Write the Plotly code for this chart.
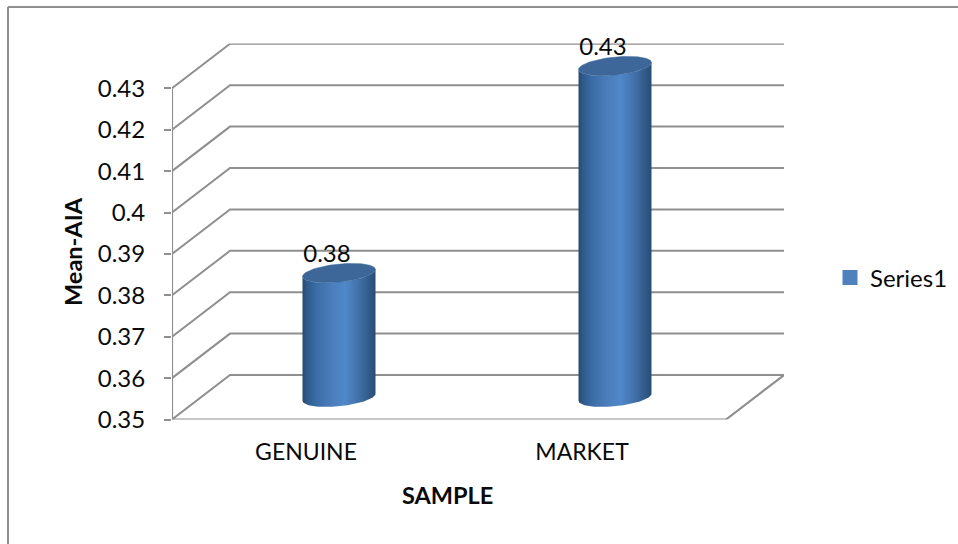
import numpy as np
import plotly.graph_objects as go

# Chart data
categories = ["GENUINE", "MARKET"]
series_name = "Series1"
values = [0.38, 0.43]
y_ticks = [0.35, 0.36, 0.37, 0.38, 0.39, 0.40, 0.41, 0.42, 0.43]
y_tick_labels = ["0.35", "0.36", "0.37", "0.38", "0.39", "0.4", "0.41", "0.42", "0.43"]
x_title = "SAMPLE"
y_title = "Mean-AIA"

# Page and plot-box geometry, in pixels
W, H = 958, 544
LEFT, RIGHT, TOP, BOTTOM = 172, 784, 43.5, 419.5
PX_PER_CAT = 276
PX_PER_UNIT = 4140

# Oblique projection of the depth direction, in axis units
DEPTH_X = 58 / PX_PER_CAT
DEPTH_Y = 44.5 / PX_PER_UNIT
X_MIN = -0.5
X_MAX = X_MIN + (RIGHT - LEFT) / PX_PER_CAT
Y_MIN = y_ticks[0]
Y_MAX = Y_MIN + (BOTTOM - TOP) / PX_PER_UNIT

GRID = "#8f8f8f"
FONT = "Lato"
TEXT = "#0a0a0a"
FONT_SIZE = 23
DIGIT_SIZE = 24
TITLE_SIZE = 23.5

# Cylinder cross-section, in pixels
RX, RY, TILT = 36.5, 9.0, 3.5

fig = go.Figure()


def line(xs, ys, width=2.0, color=GRID):
    fig.add_trace(go.Scatter(x=xs, y=ys, mode="lines", showlegend=False, hoverinfo="skip",
                             line=dict(color=color, width=width)))


# Back wall gridlines with their oblique returns to the value axis
for tick in y_ticks:
    line([X_MIN, X_MIN + DEPTH_X, X_MAX], [tick, tick + DEPTH_Y, tick + DEPTH_Y])

# Value axis and the floor outline
line([X_MIN, X_MIN], [y_ticks[0], y_ticks[-1]], width=2.2)
line([X_MIN, X_MAX - DEPTH_X, X_MAX], [Y_MIN, Y_MIN, Y_MIN + DEPTH_Y], width=2.2)


def ring(cat, level, t):
    """Tilted ellipse around a bar's axis at the given value level."""
    cx = cat + DEPTH_X / 2
    cy = level + DEPTH_Y / 2
    x = cx + RX * np.cos(t) / PX_PER_CAT
    y = cy + (RY * np.sin(t) + TILT * np.cos(t)) / PX_PER_UNIT
    return x, y


BODY_SCALE = [
    [0.00, "#27496f"], [0.06, "#2f5a8a"], [0.20, "#3b6ea8"], [0.42, "#4c7fbd"],
    [0.58, "#5088c9"], [0.75, "#4373ad"], [0.90, "#335c8c"], [1.00, "#294c74"],
]

for i, value in enumerate(values):
    # Side wall: lower half of the top rim back along the lower half of the base rim
    t_low = np.linspace(np.pi, 2 * np.pi, 60)
    x_base, y_base = ring(i, Y_MIN, t_low)
    x_top, y_top = ring(i, value, t_low[::-1])
    fig.add_trace(go.Scatter(
        x=np.concatenate([x_base, x_top, x_base[:1]]),
        y=np.concatenate([y_base, y_top, y_base[:1]]),
        mode="lines", fill="toself", line=dict(width=0, color="rgba(0,0,0,0)"),
        fillgradient=dict(type="horizontal", colorscale=BODY_SCALE),
        showlegend=False, hoverinfo="skip",
    ))
    # Top cap
    t_all = np.linspace(0, 2 * np.pi, 120)
    x_cap, y_cap = ring(i, value, t_all)
    fig.add_trace(go.Scatter(
        x=x_cap, y=y_cap, mode="lines", fill="toself", fillcolor="#3d6799",
        line=dict(width=0.5, color="#3d6799"), showlegend=False, hoverinfo="skip",
    ))

# Value labels just above each cylinder, left of its axis
fig.add_trace(go.Scatter(
    x=[i + DEPTH_X / 2 - 12 / PX_PER_CAT for i in range(len(values))],
    y=[v + DEPTH_Y / 2 + 17 / PX_PER_UNIT for v in values],
    mode="text", text=[f"{v:.2f}" for v in values], textposition="middle center",
    textfont=dict(family=FONT, size=DIGIT_SIZE, color=TEXT),
    cliponaxis=False, showlegend=False, hoverinfo="skip",
))

# Legend entry
fig.add_trace(go.Scatter(
    x=[None], y=[None], mode="markers", name=series_name,
    marker=dict(symbol="square", size=15, color="#4f81bd"),
))


def px_x(p):
    return p / W


def px_y(p):
    return 1 - p / H


fig.update_layout(
    width=W, height=H, autosize=False,
    margin=dict(l=0, r=0, t=0, b=0, autoexpand=False),
    paper_bgcolor="white", plot_bgcolor="white",
    font=dict(family=FONT, size=FONT_SIZE, color=TEXT),
    xaxis=dict(
        domain=[px_x(LEFT), px_x(RIGHT)], range=[X_MIN, X_MAX],
        tickmode="array", tickvals=list(range(len(categories))), ticktext=categories,
        ticks="", showgrid=False, zeroline=False, showline=False, automargin=False,
        ticklabelstandoff=16, ticklabelshift=-4,
        tickfont=dict(family=FONT, size=FONT_SIZE, color=TEXT),
    ),
    yaxis=dict(
        domain=[px_y(BOTTOM), px_y(TOP)], range=[Y_MIN, Y_MAX],
        tickmode="array", tickvals=y_ticks, ticktext=y_tick_labels,
        ticks="outside", ticklen=7, tickwidth=1.6, tickcolor=GRID,
        showgrid=False, zeroline=False, showline=False, automargin=False,
        ticklabelstandoff=14,
        tickfont=dict(family=FONT, size=DIGIT_SIZE, color=TEXT),
    ),
    legend=dict(
        x=px_x(830), y=px_y(278), xanchor="left", yanchor="middle",
        bgcolor="rgba(0,0,0,0)", borderwidth=0, itemwidth=30,
        font=dict(family=FONT, size=24, color=TEXT),
    ),
    annotations=[
        dict(text=f"<b>{x_title}</b>", xref="paper", yref="paper", x=px_x(447), y=px_y(495),
             xanchor="center", yanchor="middle", showarrow=False,
             font=dict(family=FONT, size=TITLE_SIZE, color=TEXT)),
        dict(text=f"<b>{y_title}</b>", xref="paper", yref="paper", x=px_x(73), y=px_y(252),
             xanchor="center", yanchor="middle", textangle=-90, showarrow=False,
             font=dict(family=FONT, size=TITLE_SIZE, color=TEXT)),
    ],
    shapes=[
        dict(type="line", xref="paper", yref="paper", x0=px_x(8), x1=1, y0=px_y(7), y1=px_y(7),
             line=dict(color=GRID, width=2)),
        dict(type="line", xref="paper", yref="paper", x0=px_x(8), x1=px_x(8), y0=px_y(7), y1=0,
             line=dict(color=GRID, width=2)),
    ],
)

fig.write_html("out.html")
